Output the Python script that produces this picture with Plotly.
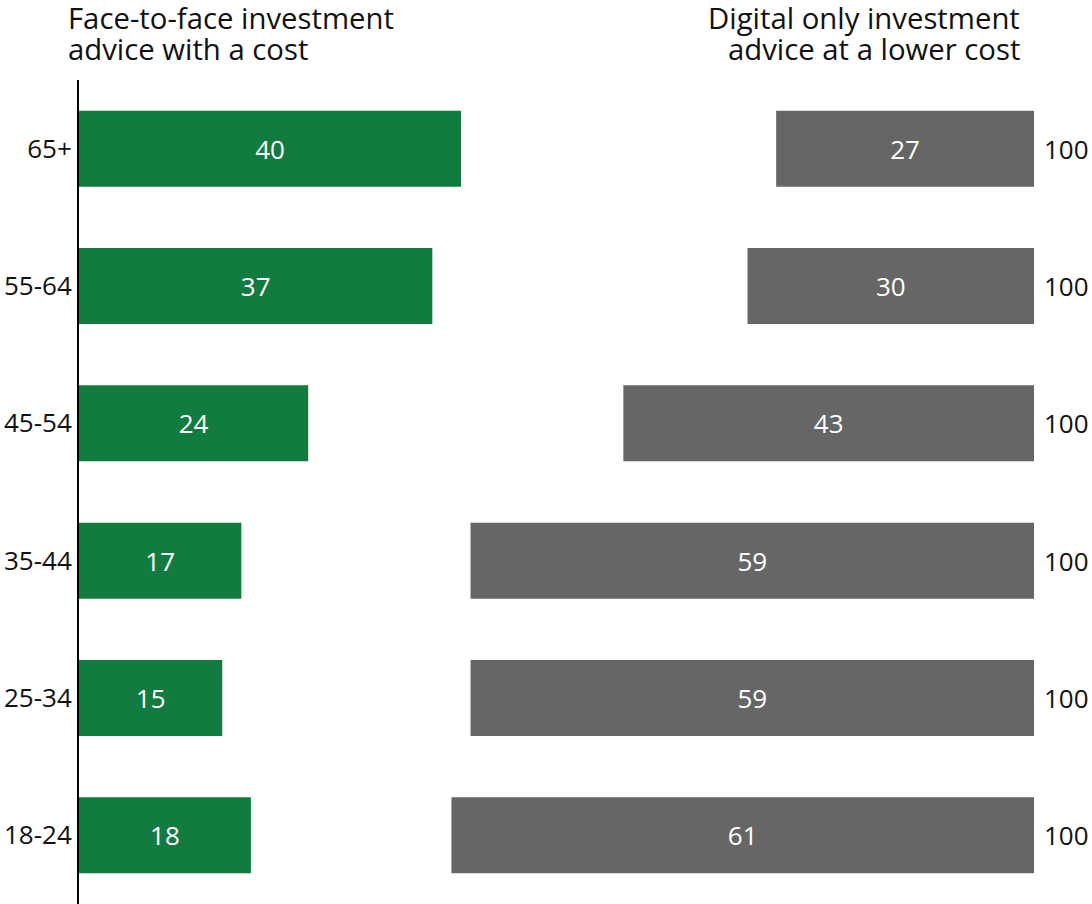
import plotly.graph_objects as go

categories = ["18-24", "25-34", "35-44", "45-54", "55-64", "65+"]
face_to_face = [18, 15, 17, 24, 37, 40]
digital_only = [61, 59, 59, 43, 30, 27]
totals = [100, 100, 100, 100, 100, 100]
left_title = ["Face-to-face investment", "advice with a cost"]
right_title = ["Digital only investment", "advice at a lower cost"]

green = "#127B3F"
grey = "#666666"
font_family = "Open Sans, Noto Sans, sans-serif"

fig = go.Figure()
fig.add_trace(go.Bar(
    y=categories, x=face_to_face, orientation="h",
    marker=dict(color=green, line=dict(width=0)),
    text=[str(v) for v in face_to_face], textposition="inside",
    insidetextanchor="middle",
    textfont=dict(color="white", size=26, family=font_family),
    name="Face-to-face", showlegend=False, hoverinfo="skip",
))
fig.add_trace(go.Bar(
    y=categories, x=digital_only, orientation="h",
    base=[t - v for t, v in zip(totals, digital_only)],
    marker=dict(color=grey, line=dict(width=0)),
    text=[str(v) for v in digital_only], textposition="inside",
    insidetextanchor="middle",
    textfont=dict(color="white", size=26, family=font_family),
    name="Digital only", showlegend=False, hoverinfo="skip",
))

for c, t in zip(categories, totals):
    fig.add_annotation(x=t, y=c, xref="x", yref="y", text=str(t),
                       showarrow=False, xanchor="left", xshift=8,
                       font=dict(size=26, color="#111111", family=font_family))

line_centers = [18, 49]
for i, line in enumerate(left_title):
    fig.add_annotation(xref="paper", yref="paper", x=0, y=1, xanchor="left", yanchor="middle",
                       xshift=-12, yshift=80 - line_centers[i], align="left", showarrow=False,
                       borderpad=0,
                       text=line, font=dict(size=29.3, color="#111111", family=font_family))
for i, line in enumerate(right_title):
    fig.add_annotation(xref="paper", yref="paper", x=(1021 - 79) / 955, y=1, xanchor="right", yanchor="middle",
                       yshift=80 - line_centers[i], align="right", showarrow=False,
                       borderpad=0,
                       text=line, font=dict(size=29.3, color="#111111", family=font_family))

fig.update_layout(
    width=1092, height=904,
    margin=dict(l=79, r=58, t=80, b=0),
    barmode="overlay", bargap=0.447,
    plot_bgcolor="white", paper_bgcolor="white",
    font=dict(family=font_family, size=26, color="#111111"),
    uniformtext=dict(minsize=10, mode="show"),
    xaxis=dict(range=[0, 100], visible=False, fixedrange=True),
    yaxis=dict(categoryorder="array", categoryarray=categories,
               showline=True, linecolor="black", linewidth=2,
               ticks="", showgrid=False, zeroline=False,
               tickfont=dict(size=26, color="#111111", family=font_family),
               ticklabelstandoff=0),
)

fig.write_html("out.html")
